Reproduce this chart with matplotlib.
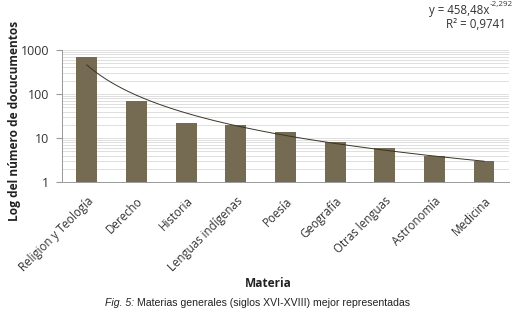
import matplotlib
matplotlib.use('Agg')
import matplotlib.pyplot as plt
from matplotlib.ticker import LogLocator, NullFormatter
import numpy as np

categories = ["Religion y Teología", "Derecho", "Historia", "Lenguas indígenas",
              "Poesía", "Geografía", "Otras lenguas", "Astronomía", "Medicina"]
counts = [690, 70, 22, 20, 14, 8, 6, 4, 3]
fit_a = 458.48
fit_b = -2.292

bar_color = '#756a52'
plt.rcParams['font.family'] = ['Open Sans', 'DejaVu Sans']

fig = plt.figure(figsize=(5.23, 3.14), dpi=100)
ax = fig.add_axes([0.1185, 0.420, 0.8545, 0.421])

x = np.arange(len(categories))
ax.bar(x, counts, width=0.42, color=bar_color, zorder=3)

# power trendline
xf = np.linspace(1, len(categories), 200)
ax.plot(xf - 1, fit_a * xf ** fit_b, color='#3a3528', linewidth=0.7, zorder=4)

ax.set_yscale('log')
ax.set_ylim(1, 1000)
ax.set_xlim(-0.5, len(categories) - 0.5)
ax.yaxis.set_minor_locator(LogLocator(base=10, subs=np.arange(2, 10)))
ax.yaxis.set_minor_formatter(NullFormatter())
ax.set_yticks([1, 10, 100, 1000])
ax.set_yticklabels(['1', '10', '100', '1000'], fontsize=9, color='#333333')
ax.grid(True, which='both', axis='y', color='#d9d9d9', linewidth=0.6, zorder=0)
ax.tick_params(axis='y', which='major', length=4, color='#999999', pad=5)
ax.tick_params(axis='y', which='minor', length=0)
ax.tick_params(axis='x', length=0, pad=9)

ax.set_xticks(x)
ax.set_xticklabels(categories, rotation=45, ha='right', rotation_mode='anchor',
                   fontsize=8.3, color='#333333')

for s in ['top', 'right']:
    ax.spines[s].set_visible(False)
ax.spines['left'].set_color('#999999')
ax.spines['bottom'].set_color('#999999')
ax.spines['left'].set_linewidth(0.7)
ax.spines['bottom'].set_linewidth(0.7)

fig.text(0.027, 0.615, 'Log del número de docucumentos', rotation=90, ha='center',
         va='center', fontsize=8.6, fontweight='bold', color='#222222')
fig.text(0.513, 0.097, 'Materia', ha='center', va='center', fontsize=8.6,
         fontweight='bold', color='#222222')

# trendline equation
fig.text(0.936, 0.968, 'y = 458,48x', ha='right', va='center',
         fontsize=8.3, color='#333333')
fig.text(0.937, 0.986, '-2,292', ha='left', va='center',
         fontsize=5.8, color='#333333')
fig.text(0.909, 0.922, 'R² = 0,9741', ha='center', va='center',
         fontsize=8.3, color='#333333')

cap_font = ['Liberation Sans']
fig.text(0.2, 0.035, 'Fig. 5:', ha='left', va='center', fontsize=7.6,
         style='italic', family=cap_font, color='#222222')
fig.text(0.262, 0.035, 'Materias generales (siglos XVI-XVIII) mejor representadas',
         ha='left', va='center', fontsize=7.6, family=cap_font, color='#222222')

fig.savefig('out.png', dpi=100)
